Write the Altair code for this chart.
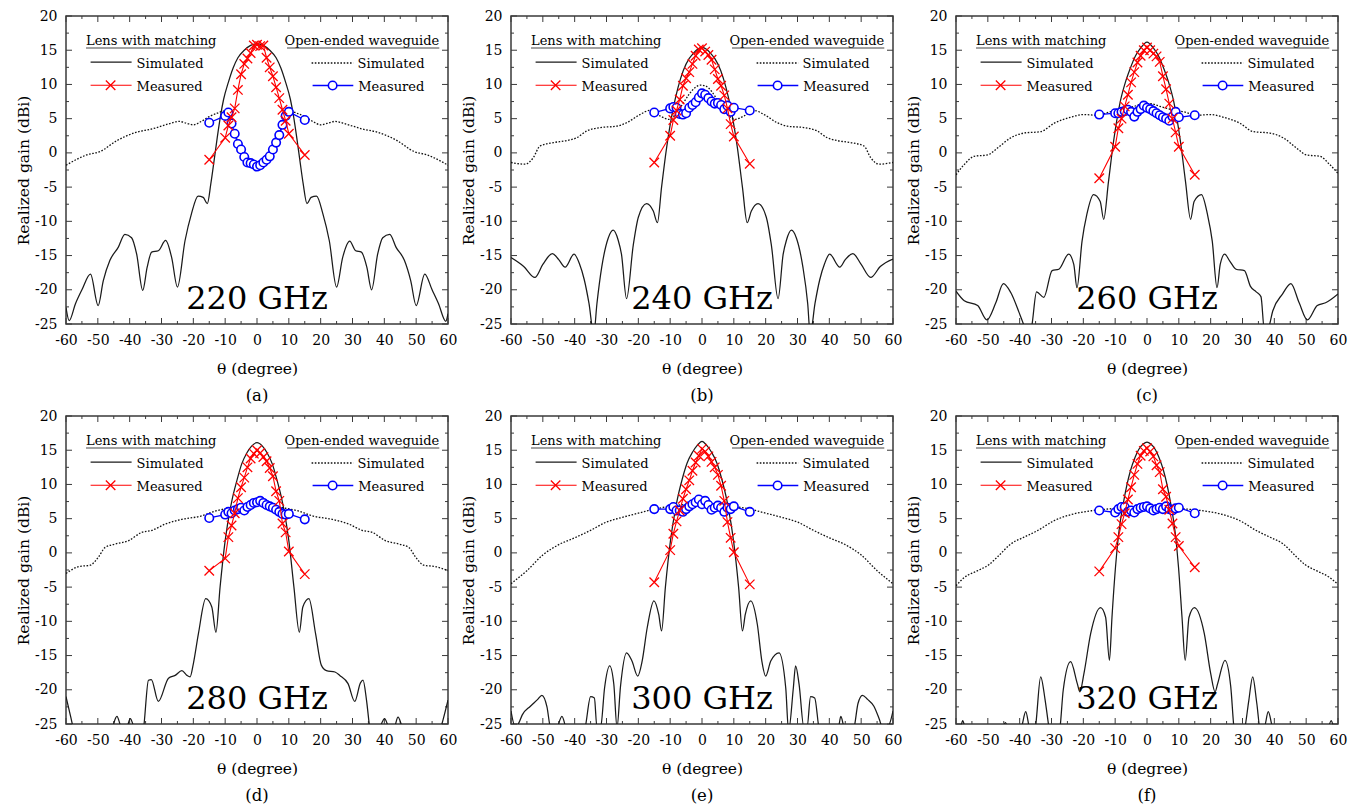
import altair as alt
import pandas as pd

FONT = "DejaVu Serif, Liberation Serif, serif"
W, H = 382, 308
XDOM = [-60, 60]
YDOM = [-25, 20]
X_TICKS = list(range(-60, 61, 10))
Y_TICKS = list(range(-25, 21, 5))

MEAS_THETA = [-15, -10, -9, -8, -7, -6, -5, -4, -3, -2, -1, 0, 1, 2, 3, 4, 5, 6, 7, 8, 9, 10, 15]

FREQ_LABELS = ["220 GHz", "240 GHz", "260 GHz", "280 GHz", "300 GHz", "320 GHz"]
SUB_LABELS = ["(a)", "(b)", "(c)", "(d)", "(e)", "(f)"]
LEFT_TITLE = "Lens with matching"
RIGHT_TITLE = "Open-ended waveguide"
SIM_LABEL = "Simulated"
MEAS_LABEL = "Measured"
X_TITLE = "θ (degree)"
Y_TITLE = "Realized gain (dBi)"

# ---------- (a) 220 GHz ----------
LENS_SIM_A = [(-60, -22.6), (-59, -24.5), (-57, -22.0), (-55, -20.0), (-52.3, -17.7), (-49.9, -22.3), (-48.3, -18.7),
              (-46.2, -15.7), (-43.6, -13.8), (-41.5, -11.9), (-39.4, -12.4), (-37.8, -14.8), (-35.9, -20.1), (-34.5, -16.7),
              (-33.1, -14.5), (-31, -14.3), (-28.7, -12.8), (-26.8, -15.3), (-25, -19.6), (-22.6, -12.8), (-20.6, -8.9),
              (-18.5, -6.3), (-16.9, -6.5), (-15.6, -7.4), (-14.5, -4.5), (-13.5, -1.2), (-12.5, 2.2), (-11.5, 5.3),
              (-10.5, 7.8), (-9, 10.3), (-7.5, 12.4), (-6, 13.9), (-4, 15.0), (-2, 15.7), (0, 15.95), (2, 15.7), (4, 15.0),
              (6, 13.9), (7.5, 12.4), (9, 10.3), (10.5, 7.8), (11.5, 5.3), (12.5, 2.2), (13.5, -1.2), (14.5, -4.5),
              (15.7, -7.4), (17, -6.5), (18.7, -6.3), (20.7, -8.9), (22.7, -12.8), (25, -19.6), (26.9, -15.3),
              (29.1, -12.9), (31, -14.3), (32.8, -14.5), (34.5, -16.7), (36, -20.0), (37.9, -14.8), (39.5, -12.4),
              (41.7, -11.9), (43.7, -13.8), (46.3, -15.7), (48.3, -18.7), (50, -22.3), (52.7, -17.7), (55, -20.0),
              (57, -22.0), (59.3, -24.6), (60, -23.5)]
OEWG_SIM_A = [(-60, -1.8), (-56, -0.8), (-53.5, -0.3), (-49.3, 0.2), (-44, 1.8), (-38, 3.0), (-33, 3.5), (-28, 4.2),
              (-24.5, 4.6), (-22, 4.3), (-20, 4.1), (-17.5, 4.6), (-15, 5.3), (-12.5, 5.8), (-10.5, 6.1), (-9, 5.6),
              (-8, 4.5), (-7, 3.0), (-6, 1.6), (-5, 0.5), (-4, -0.4), (-3, -1.1), (-2, -1.5), (-1, -1.7), (0, -1.8),
              (1, -1.7), (2, -1.4), (3, -1.0), (4, -0.4), (5, 0.5), (6, 1.5), (7, 2.7), (8, 4.2), (9, 5.4), (10.5, 6.1),
              (12.5, 5.8), (15, 5.3), (17.5, 4.6), (20, 4.1), (22, 4.3), (24.5, 4.6), (28, 4.2), (33, 3.5), (38, 3.0),
              (44, 1.8), (49.3, 0.2), (53.5, -0.3), (56, -0.8), (60, -1.8)]
LENS_MEAS_A = [-1.0, 2.2, 4.0, 5.2, 6.5, 9.2, 11.5, 13.0, 13.8, 14.6, 15.7, 15.8, 15.6, 15.7, 13.9, 12.5, 11.2, 9.6, 8.0,
               6.3, 4.7, 2.8, -0.3]
OEWG_MEAS_A = [4.4, 5.4, 5.9, 4.3, 2.8, 1.3, 0.5, -0.6, -1.4, -1.5, -1.7, -2.0, -1.8, -1.4, -1.0, -0.5, 0.5, 1.5, 2.6,
               4.1, 5.4, 6.0, 4.8]

# ---------- (b) 240 GHz ----------
LENS_SIM_B = [(-60, -15.3), (-56, -16.6), (-52.5, -18.2), (-50, -16.3), (-47, -14.7), (-45, -15.6), (-43, -16.7),
              (-40.2, -14.8), (-38.5, -16.2), (-37, -18.5), (-35.5, -22), (-34, -26.5), (-33, -22), (-31.5, -16.7),
              (-29.5, -12.5), (-27.9, -11.3), (-26.3, -12.8), (-25.3, -14.8), (-23.7, -21.3), (-21.6, -13.5), (-20, -9.4),
              (-17.4, -7.4), (-15.3, -8.5), (-14, -10.2), (-12.7, -5.0), (-11.1, 0.8), (-9, 6.6), (-7.5, 9.6),
              (-5.9, 12.0), (-4, 13.8), (-2.8, 14.5), (-1.5, 15.1), (0, 15.4), (1.5, 15.1), (2.8, 14.5), (4, 13.8),
              (5.9, 12.0), (7.5, 9.6), (9, 6.6), (11.1, 0.8), (12.7, -5.0), (14.2, -10.2), (15.5, -8.5), (17.6, -7.4),
              (20.2, -9.4), (21.8, -13.5), (23.9, -21.3), (25.5, -14.8), (26.5, -12.8), (28.1, -11.3), (29.7, -12.5),
              (31.7, -16.7), (33.2, -22), (34, -26.5), (35.5, -22), (37, -18.5), (38.5, -16.2), (40.1, -14.8),
              (43.3, -16.7), (45, -15.6), (47.4, -14.7), (50, -16.3), (53, -18.2), (56, -16.6), (60, -15.5)]
OEWG_SIM_B = [(-60, -1.4), (-55.6, -1.65), (-53, -0.7), (-50.9, 1.0), (-46.7, 1.5), (-42.5, 1.8), (-39.4, 2.2),
              (-36.2, 3.2), (-32, 3.7), (-26.8, 3.9), (-23.7, 4.4), (-19.5, 5.6), (-16.4, 6.2), (-13.2, 5.4),
              (-10.4, 4.9), (-8, 5.8), (-6, 7.2), (-4, 8.6), (-2, 9.6), (-0.5, 9.9), (1, 9.8), (3, 9.0), (5, 7.6),
              (7, 6.3), (8.5, 5.4), (10.4, 4.9), (13.2, 5.4), (16.4, 6.2), (19.5, 5.6), (23.7, 4.4), (26.8, 3.9),
              (32, 3.7), (36.2, 3.2), (39.4, 2.2), (42.5, 1.8), (46.7, 1.5), (50.9, 1.0), (53, -0.7), (55.6, -1.65),
              (60, -1.4)]
LENS_MEAS_B = [-1.4, 2.5, 4.8, 6.2, 7.8, 9.8, 10.9, 11.8, 13.0, 14.2, 15.1, 15.3, 14.8, 14.3, 13.6, 12.2, 10.8, 9.8,
               8.4, 6.5, 4.2, 2.4, -1.6]
OEWG_MEAS_B = [5.9, 6.5, 6.7, 6.6, 5.7, 5.6, 5.8, 6.6, 7.0, 7.4, 8.1, 8.7, 8.5, 8.0, 7.5, 7.2, 7.3, 7.0, 6.4, 6.9,
               6.0, 6.6, 6.2]

# ---------- (c) 260 GHz ----------
LENS_SIM_C = [(-60, -20.2), (-57.4, -21.6), (-53.2, -22.3), (-50.3, -24.4), (-47.5, -21.9), (-45.1, -19.1),
              (-42.8, -20.4), (-40.2, -23.3), (-38.6, -25.3), (-37.5, -27), (-36.2, -25.3), (-34.7, -20.3),
              (-32.4, -21.1), (-29.8, -17.2), (-27.7, -17.0), (-24.6, -14.8), (-23, -16.3), (-22, -19.7),
              (-20.4, -12.9), (-18.9, -9.0), (-16.8, -6.1), (-14.7, -7.1), (-13.6, -9.7), (-12.1, -4.2), (-10.5, 1.7),
              (-8.4, 7.5), (-6.8, 10.3), (-5.3, 12.3), (-3.6, 14.2), (-2.2, 15.2), (0, 16.2), (2.2, 15.2), (3.6, 14.2),
              (5.3, 12.3), (6.8, 10.3), (8.4, 7.5), (10.5, 1.7), (12.1, -4.2), (13.7, -9.7), (14.8, -7.1), (17.1, -6.1),
              (19, -9.0), (20.5, -12.9), (22, -19.7), (23, -16.3), (24.4, -14.8), (26, -15.8), (28, -17.0),
              (30.6, -17.2), (32.5, -19.5), (34.3, -20.3), (35.8, -21.0), (36.9, -26), (38.2, -25.5), (39.5, -23.1),
              (42.6, -20.6), (45.2, -19.1), (47.8, -21.9), (50.4, -24.4), (53.5, -22.3), (56.1, -21.9), (60, -20.6)]
OEWG_SIM_C = [(-60, -3.2), (-57.4, -1.7), (-54.3, -0.5), (-50.1, -0.3), (-47, 0.7), (-42.8, 2.2), (-38.6, 2.9),
              (-33.4, 3.1), (-29.3, 4.3), (-24.1, 5.2), (-19.9, 5.6), (-15.7, 5.5), (-11.6, 6.0), (-8, 6.3), (-4, 6.8),
              (-1, 7.2), (1, 7.2), (4, 6.8), (8, 6.3), (11.6, 6.0), (15.7, 5.5), (19.9, 5.6), (24.1, 5.2), (29.3, 4.3),
              (33.4, 3.1), (38.6, 2.9), (42.8, 2.2), (47, 0.7), (50.1, -0.3), (54.3, -0.5), (57.4, -1.7), (60, -3.0)]
LENS_MEAS_C = [-3.7, 0.9, 3.6, 5.0, 6.8, 8.5, 10.3, 11.8, 13.2, 14.2, 15.0, 15.4, 15.0, 14.5, 14.1, 13.3, 11.2, 9.3,
               7.2, 5.0, 3.0, 0.9, -3.2]
OEWG_MEAS_C = [5.6, 5.8, 5.8, 6.0, 6.1, 6.3, 6.0, 5.3, 6.0, 6.4, 6.9, 6.6, 6.4, 6.1, 5.8, 5.5, 5.2, 5.0, 4.7, 5.3,
               6.0, 5.2, 5.5]

# ---------- (d) 280 GHz ----------
LENS_SIM_D = [(-60, -21.0), (-58.5, -24.0), (-57.5, -26), (-55, -29), (-50, -30), (-47, -27.5), (-45.3, -25.3),
              (-44, -23.9), (-42.8, -25.3), (-41.5, -26), (-40.7, -25.3), (-39.8, -24.2), (-38.8, -25.3), (-37, -28),
              (-35.6, -25.5), (-34.1, -18.6), (-33.2, -18.5), (-31, -21.7), (-27.8, -18.3), (-25.7, -17.9),
              (-23.6, -17.2), (-22, -17.9), (-21, -18.1), (-20, -16.2), (-18.4, -11.8), (-16.1, -6.7), (-14.2, -7.9),
              (-12.9, -11.6), (-11.6, -5.0), (-10, 1.8), (-7.9, 7.6), (-6.3, 10.6), (-4.8, 13.0), (-3.2, 14.6),
              (-1.7, 15.6), (0, 16.1), (1.7, 15.6), (3.2, 14.6), (4.8, 13.0), (6.3, 10.6), (7.9, 7.6), (10, 1.8),
              (11.6, -5.0), (13.3, -11.6), (14.4, -7.9), (16.3, -6.7), (18.4, -11.8), (20.2, -16.4), (21.8, -17.2),
              (24.5, -17.4), (26, -17.9), (28.6, -19.1), (30.7, -21.7), (32.5, -19.0), (33.3, -18.6), (34.4, -21.5),
              (35.4, -25.5), (37, -28), (38.8, -25.3), (40.1, -24.2), (41.2, -25.3), (42.5, -26), (43.3, -25.3),
              (44.3, -24.0), (45.5, -25.3), (47.5, -28), (52, -30), (56, -28), (57.9, -25.3), (60, -21.5)]
OEWG_SIM_D = [(-60, -3.0), (-56, -2.0), (-52.4, -1.8), (-49.8, -0.6), (-47.7, 0.8), (-44.5, 1.3), (-40.3, 1.8),
              (-36.2, 3.0), (-33, 3.3), (-28.9, 4.2), (-23.6, 4.9), (-17.4, 5.4), (-13.2, 6.1), (-8, 6.6), (-4, 6.9),
              (0, 7.0), (4, 6.9), (8, 6.6), (13.2, 6.1), (17.4, 5.4), (23.6, 4.9), (28.9, 4.2), (33, 3.3), (36.2, 3.0),
              (40.3, 1.8), (44.5, 1.3), (47.7, 0.8), (49.8, -0.6), (52.4, -1.8), (56, -2.0), (60, -2.6)]
LENS_MEAS_D = [-2.6, -0.8, 2.3, 4.0, 5.8, 8.0, 9.6, 11.0, 12.5, 13.8, 14.5, 15.0, 14.6, 14.0, 13.4, 12.4, 11.2, 9.0,
               7.6, 4.3, 3.0, 0.2, -3.1]
OEWG_MEAS_D = [5.1, 5.6, 6.0, 5.8, 6.2, 6.4, 6.6, 6.2, 6.7, 7.0, 7.3, 7.4, 7.6, 7.3, 7.0, 6.8, 6.6, 6.3, 6.0, 5.7,
               5.6, 5.7, 4.9]

# ---------- (e) 300 GHz ----------
LENS_SIM_E = [(-60, -23.1), (-58.6, -25.5), (-57.5, -24.8), (-56.5, -23.7), (-53.9, -22.4), (-51.6, -21.4),
              (-50.3, -20.8), (-48.7, -22.5), (-47.6, -25.5), (-46, -26), (-44, -23.9), (-42.8, -25.5), (-40, -29),
              (-37.5, -27), (-36.6, -25.3), (-35, -21.0), (-33.8, -21.2), (-33, -25.5), (-31.8, -25.3), (-30.6, -19.7),
              (-29, -16.5), (-27.7, -19.2), (-26.7, -25.5), (-25.6, -19.5), (-23.7, -14.6), (-22, -15.8),
              (-20.2, -18.0), (-18.8, -15.8), (-17.2, -10.9), (-15.1, -7.0), (-13.6, -9.0), (-12.7, -11.4),
              (-11.5, -5.0), (-9.9, 1.8), (-7.8, 7.7), (-6.2, 10.8), (-4.7, 13.1), (-3, 14.7), (-1.5, 15.7), (0, 16.3),
              (1.5, 15.7), (3, 14.7), (4.7, 13.1), (6.2, 10.8), (7.8, 7.7), (9.9, 1.8), (11.5, -5.0), (12.7, -11.4),
              (13.6, -9.0), (15.3, -7.0), (17.4, -10.5), (18.8, -15.8), (20, -18.0), (21.6, -15.8), (24.2, -14.6),
              (26.3, -19.7), (27.2, -26), (28.7, -19.7), (29.4, -16.5), (30.5, -19.2), (32, -25.5), (33, -25.5),
              (34.1, -21.0), (35.4, -21.2), (36.7, -25.5), (38.5, -28), (41, -29), (43, -25.3), (43.6, -23.9),
              (44.5, -25.3), (46, -27), (47.8, -25.5), (49, -22.0), (50.4, -20.8), (52, -21.4), (54, -22.4),
              (55.7, -24.3), (56.7, -25.5), (58.5, -25.3), (60, -23.1)]
OEWG_SIM_E = [(-60, -4.5), (-55, -2.6), (-50, -0.3), (-45, 1.2), (-40, 2.2), (-35, 3.3), (-30, 4.5), (-25, 5.2),
              (-20, 5.8), (-15, 6.4), (-10, 6.8), (-5, 7.1), (0, 7.3), (5, 7.1), (10, 6.8), (15, 6.4), (20, 5.8),
              (25, 5.2), (30, 4.5), (35, 3.3), (40, 2.2), (45, 1.2), (50, -0.3), (55, -2.6), (60, -4.5)]
LENS_MEAS_E = [-4.3, 0.4, 2.8, 4.6, 6.2, 7.9, 9.3, 10.6, 12.0, 13.2, 14.2, 15.2, 14.8, 14.1, 13.3, 12.5, 11.4, 9.8,
               7.6, 4.5, 2.2, 0.1, -4.6]
OEWG_MEAS_E = [6.4, 6.4, 6.7, 6.2, 6.2, 6.0, 6.4, 6.8, 7.1, 7.4, 7.8, 7.1, 7.6, 7.0, 6.3, 6.6, 6.9, 6.6, 6.0, 6.6,
               6.4, 6.8, 6.0]

# ---------- (f) 320 GHz ----------
LENS_SIM_F = [(-60, -27), (-58.5, -25.5), (-57.9, -24.5), (-57.2, -25.5), (-52, -30), (-46, -27), (-44.5, -24.8),
              (-43, -26.5), (-40.5, -27), (-39.3, -25.3), (-38.1, -23.2), (-37, -25.5), (-36, -27), (-35, -25.3),
              (-33.4, -18.1), (-32, -21.5), (-30.8, -25.5), (-29, -29), (-27.3, -25.5), (-26.3, -20.0), (-24, -15.9),
              (-21.9, -19.1), (-21.1, -20.3), (-19.8, -17.6), (-17.7, -11.8), (-14.6, -8.0), (-13, -9.4),
              (-11.8, -15.7), (-11, -9.4), (-9.9, -2.1), (-8.9, 2.8), (-7.3, 7.6), (-5.2, 12.0), (-3.8, 13.9),
              (-2.6, 15.1), (-1.2, 15.9), (0, 16.2), (1.2, 15.9), (2.6, 15.1), (3.8, 13.9), (5.2, 12.0), (7.3, 7.6),
              (8.9, 2.8), (9.9, -2.1), (11, -9.4), (12, -15.7), (13.2, -9.4), (14.9, -8.0), (18, -11.8), (20, -17.6),
              (21.4, -20.3), (22.2, -19.1), (24.5, -15.7), (26.3, -19.5), (27.3, -25.5), (29, -29), (30.8, -25.5),
              (32, -21.5), (33.2, -18.1), (34.5, -22), (35.5, -25.5), (36.8, -25.5), (38.1, -23.2), (39.3, -25.3),
              (40.5, -27), (46, -28), (52, -30), (56, -27.5), (57.9, -24.5), (58.5, -25.3), (60, -27)]
OEWG_SIM_F = [(-60, -4.8), (-57.4, -3.6), (-53.2, -2.6), (-49.6, -1.7), (-47, -0.6), (-42.8, 1.3), (-38.6, 2.3),
              (-34.4, 3.25), (-29.2, 4.7), (-23, 5.7), (-16.7, 6.2), (-10, 6.5), (-5, 6.7), (0, 6.85), (5, 6.7),
              (10, 6.5), (16.7, 6.2), (23, 5.7), (29.2, 4.7), (34.4, 3.25), (38.6, 2.3), (42.8, 1.3), (47, -0.6),
              (49.6, -1.7), (53.2, -2.6), (57.4, -3.6), (60, -4.6)]
LENS_MEAS_F = [-2.7, 0.7, 2.3, 4.2, 5.8, 7.8, 9.6, 11.4, 13.0, 14.2, 14.9, 15.3, 14.8, 14.1, 12.8, 11.8, 9.3, 8.2,
               6.3, 4.3, 2.3, 1.0, -2.1]
OEWG_MEAS_F = [6.2, 5.9, 6.4, 6.7, 6.7, 6.0, 6.2, 5.9, 6.4, 6.6, 6.7, 6.8, 6.5, 6.2, 6.4, 6.6, 6.4, 6.8, 6.4, 6.2,
               6.5, 6.6, 5.8]

PANELS = [
    (LENS_SIM_A, OEWG_SIM_A, LENS_MEAS_A, OEWG_MEAS_A),
    (LENS_SIM_B, OEWG_SIM_B, LENS_MEAS_B, OEWG_MEAS_B),
    (LENS_SIM_C, OEWG_SIM_C, LENS_MEAS_C, OEWG_MEAS_C),
    (LENS_SIM_D, OEWG_SIM_D, LENS_MEAS_D, OEWG_MEAS_D),
    (LENS_SIM_E, OEWG_SIM_E, LENS_MEAS_E, OEWG_MEAS_E),
    (LENS_SIM_F, OEWG_SIM_F, LENS_MEAS_F, OEWG_MEAS_F),
]

# ---------- styling ----------
BLACK = "#1a1a1a"
DOT = "#111111"
RED = "#ff0000"
BLUE = "#0000ff"
FRAME = "#3a3a3a"
XPATH = "M-1,-1L1,1M-1,1L1,-1"
FS_TICK, FS_TITLE, FS_LEG, FS_FREQ, FS_SUB = 14, 15.5, 13, 32, 16.5

XS = alt.Scale(domain=XDOM, nice=False, zero=False)
YS = alt.Scale(domain=YDOM, nice=False, zero=False)

X_AXIS = alt.Axis(values=X_TICKS, title=X_TITLE, ticks=False, domain=False, grid=False, labelOverlap=False,
                  labelFlush=False, labelExpr="datum.value + ''", labelFont=FONT, labelFontSize=FS_TICK,
                  labelColor="black", labelPadding=9, titleFont=FONT, titleFontSize=FS_TITLE,
                  titleFontWeight="normal", titleColor="black", titlePadding=14)
Y_AXIS = alt.Axis(values=Y_TICKS, title=Y_TITLE, ticks=False, domain=False, grid=False, labelOverlap=False,
                  labelFlush=False, labelExpr="datum.value + ''", labelFont=FONT, labelFontSize=FS_TICK,
                  labelColor="black", labelPadding=9, titleFont=FONT, titleFontSize=FS_TITLE,
                  titleFontWeight="normal", titleColor="black", titlePadding=3)

ONE = pd.DataFrame({"k": [0]})


def tick_tables():
    xr, yr = [], []
    for v in range(-60, 61, 5):
        L = (6 if v % 10 == 0 else 3) * (YDOM[1] - YDOM[0]) / H
        xr.append({"v": v, "a": YDOM[0], "b": YDOM[0] + L})
        xr.append({"v": v, "a": YDOM[1], "b": YDOM[1] - L})
    for i in range(19):
        v = YDOM[0] + 2.5 * i
        L = (6 if i % 2 == 0 else 3) * (XDOM[1] - XDOM[0]) / W
        yr.append({"v": v, "a": XDOM[0], "b": XDOM[0] + L})
        yr.append({"v": v, "a": XDOM[1], "b": XDOM[1] - L})
    return pd.DataFrame(xr), pd.DataFrame(yr)


XT, YT = tick_tables()


def txt(s, x, y, size, align="left"):
    return alt.Chart(ONE).mark_text(text=s, align=align, baseline="alphabetic", font=FONT, fontSize=size,
                                    color="black").encode(x=alt.value(x), y=alt.value(y))


def hrule(x1, x2, y, color, width=1.2, dash=None):
    kw = dict(color=color, strokeWidth=width)
    if dash:
        kw["strokeDash"] = dash
    return alt.Chart(ONE).mark_rule(**kw).encode(x=alt.value(x1), x2=alt.value(x2), y=alt.value(y))


def xmark_at(x, y):
    return alt.Chart(ONE).mark_point(shape=XPATH, size=90, filled=False, color=RED, strokeWidth=1.3,
                                     opacity=1).encode(x=alt.value(x), y=alt.value(y))


def circ_at(x, y):
    return alt.Chart(ONE).mark_point(shape="circle", size=72, filled=True, fill="white", stroke=BLUE,
                                     strokeWidth=1.6, opacity=1).encode(x=alt.value(x), y=alt.value(y))


def XE(field):
    return alt.X(field, type="quantitative", scale=XS, axis=X_AXIS)


def YE(field):
    return alt.Y(field, type="quantitative", scale=YS, axis=Y_AXIS)


def panel(idx):
    lens_sim, oewg_sim, lens_meas, oewg_meas = PANELS[idx]
    ls = pd.DataFrame(lens_sim, columns=["theta", "gain"])
    osim = pd.DataFrame(oewg_sim, columns=["theta", "gain"])
    lm = pd.DataFrame({"theta": MEAS_THETA, "gain": lens_meas})
    om = pd.DataFrame({"theta": MEAS_THETA, "gain": oewg_meas})

    def enc(ch):
        return ch.encode(x=XE("theta"), y=YE("gain"))

    xticks = alt.Chart(XT).mark_rule(color=FRAME, strokeWidth=1).encode(x=XE("v"), y=YE("a"), y2="b:Q")
    yticks = alt.Chart(YT).mark_rule(color=FRAME, strokeWidth=1).encode(y=YE("v"), x=XE("a"), x2="b:Q")

    lens_line = enc(alt.Chart(ls).mark_line(color=BLACK, strokeWidth=1.25, interpolate="monotone", clip=True))
    oewg_line = enc(alt.Chart(osim).mark_line(color=DOT, strokeWidth=1.3, strokeDash=[1.6, 1.6],
                                              interpolate="monotone", clip=True))
    blue_line = enc(alt.Chart(om).mark_line(color=BLUE, strokeWidth=1.3, clip=True))
    blue_pts = enc(alt.Chart(om).mark_point(shape="circle", size=72, filled=True, fill="white", stroke=BLUE,
                                            strokeWidth=1.6, opacity=1, clip=True))
    red_line = enc(alt.Chart(lm).mark_line(color=RED, strokeWidth=1.1, clip=True))
    red_pts = enc(alt.Chart(lm).mark_point(shape=XPATH, size=90, filled=False, color=RED, strokeWidth=1.3,
                                           opacity=1, clip=True))

    legend = [
        txt(LEFT_TITLE, 20, 28.5, FS_LEG),
        hrule(20, 147, 32, "#444", 1),
        hrule(24.6, 65.6, 46, BLACK, 1.25),
        txt(SIM_LABEL, 70.6, 51.5, FS_LEG),
        hrule(24.6, 65.6, 69.3, RED, 1.1),
        xmark_at(44.6, 69.3),
        txt(MEAS_LABEL, 70.6, 75, FS_LEG),
        txt(RIGHT_TITLE, 373.3, 28.5, FS_LEG, align="right"),
        hrule(221, 373.3, 32, "#444", 1),
        hrule(245.6, 287.3, 47, DOT, 1.3, [1.6, 1.6]),
        txt(SIM_LABEL, 291.6, 52, FS_LEG),
        hrule(246.6, 287.3, 69.5, BLUE, 1.3),
        circ_at(266.6, 69.5),
        txt(MEAS_LABEL, 292.3, 75.3, FS_LEG),
    ]
    freq = txt(FREQ_LABELS[idx], W / 2, 293, FS_FREQ, align="center")
    sub = txt(SUB_LABELS[idx], W / 2, H + 77, FS_SUB, align="center")

    return alt.layer(xticks, yticks, lens_line, oewg_line, blue_line, blue_pts, red_line, red_pts,
                     *legend, freq, sub).properties(width=W, height=H)


chart = alt.concat(*[panel(i) for i in range(6)], columns=3, spacing={"row": 92, "column": 63},
                   bounds="flush").properties(
    padding={"left": 7, "top": 0, "right": 2, "bottom": 0},
    background="white",
).configure_view(stroke=FRAME, strokeWidth=1.5)

chart.save("out.html", embed_options={"renderer": "svg", "actions": False})
